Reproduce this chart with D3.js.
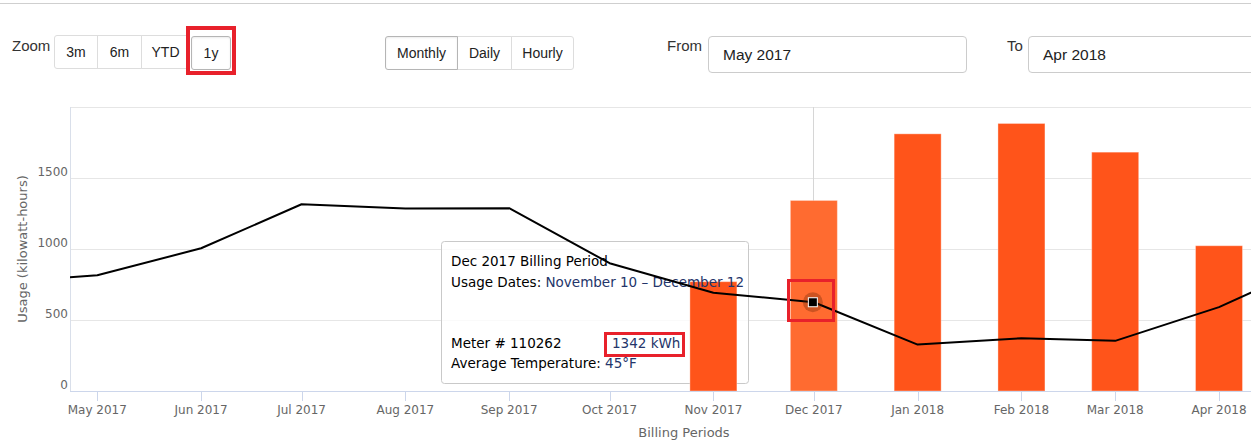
<!DOCTYPE html>
<html lang="en">
<head>
<meta charset="UTF-8"/>
<title>Monthly usage</title>
<script src="https://d3js.org/d3.v7.min.js"></script>
<style>
    body, html {
        margin: 0;
        padding: 0;
        width: 1251px;
        height: 444px;
        overflow: hidden;
        background: #fff;
        font-family: "Liberation Sans", Arial, sans-serif;
    }
    .topline {
        position: absolute; left: 0; top: 3px; width: 1251px; height: 0;
        border-top: 1px solid #cfcfcf;
    }
    .label {
        position: absolute; font-size: 15px; color: #333;
    }
    .group {
        position: absolute; display: flex; height: 34px;
    }
    .btn {
        box-sizing: border-box; height: 34px; font-size: 14px; color: #222;
        display: flex; align-items: center; justify-content: center;
        border: 1px solid #ddd; margin-left: -1px; background: #fff;
    }
    .btn:first-child { border-radius: 3px 0 0 3px; margin-left: 0; }
    .btn:last-child { border-radius: 0 3px 3px 0; }
    .btn.active { border-color: #b5b5b5; box-shadow: inset 0 1px 2px rgba(0,0,0,0.08); position: relative; }
    .input {
        position: absolute; box-sizing: border-box; height: 37px;
        border: 1px solid #ccc; border-radius: 4px; font-size: 15.5px; color: #222;
        padding-left: 14px; display: flex; align-items: center;
    }
    .redbox {
        position: absolute; box-sizing: border-box; border: 3px solid #e8212b;
    }
    svg { position: absolute; left: 0; top: 0; }
</style>
</head>
<body>
<div class="topline"></div>
<div class="label" style="left:12px;top:37px;">Zoom</div>
<div class="group" style="left:54px;top:35px;">
    <div class="btn" style="width:44px;">3m</div>
    <div class="btn" style="width:45px;">6m</div>
    <div class="btn" style="width:49px;">YTD</div>
</div>
<div class="group" style="left:191px;top:36px;">
    <div class="btn active" style="width:40px;border-radius:3px;">1y</div>
</div>
<div class="group" style="left:385px;top:36px;">
    <div class="btn active" style="width:73px;">Monthly</div>
    <div class="btn" style="width:55px;">Daily</div>
    <div class="btn" style="width:63px;">Hourly</div>
</div>
<div class="label" style="left:667px;top:37px;">From</div>
<div class="input" style="left:708px;top:36px;width:259px;">May 2017</div>
<div class="label" style="left:1007px;top:37px;">To</div>
<div class="input" style="left:1028px;top:36px;width:240px;">Apr 2018</div>
<div class="redbox" style="left:186px;top:26px;width:50px;height:49px;border-width:4px;"></div>

<svg id="chart" width="1251" height="444"></svg>
<div class="redbox" style="left:787px;top:279px;width:48px;height:43px;"></div>
<div class="redbox" style="left:604px;top:332px;width:81px;height:25px;"></div>

<script>
    // usage line (kWh), one point per month, including the ones that run off the edges
    const lineMonths = ["2017-04", "2017-05", "2017-06", "2017-07", "2017-08", "2017-09", "2017-10",
        "2017-11", "2017-12", "2018-01", "2018-02", "2018-03", "2018-04", "2018-05"];
    const lineValues = [765, 815, 1005, 1315, 1285, 1287, 900, 692, 625, 327, 372, 353, 591, 912];

    // billed usage bars (kWh)
    const barMonths = ["2017-11", "2017-12", "2018-01", "2018-02", "2018-03", "2018-04"];
    const barValues = [770, 1342, 1811, 1884, 1682, 1023];

    const tickMonths = ["2017-05", "2017-06", "2017-07", "2017-08", "2017-09", "2017-10",
        "2017-11", "2017-12", "2018-01", "2018-02", "2018-03", "2018-04"];
    const yTicks = [0, 500, 1000, 1500];
    const yGrid = [500, 1000, 1500, 2000];

    const hoverMonth = "2017-12";
    const tipTitle = "Dec 2017 Billing Period";
    const tipDates = "November 10 \u2013 December 12";
    const tipMeter = "110262";
    const tipTemp = "45\u00B0F";

    const parse = d3.utcParse("%Y-%m");
    const fmt = d3.utcFormat("%b %Y");

    const svg = d3.select("#chart");
    const plotLeft = 70, plotRight = 1251, plotTop = 107, plotBottom = 391;

    const x = d3.scaleUtc()
        .domain([parse("2017-05"), parse("2018-04")])
        .range([97.3, 1219]);
    const y = d3.scaleLinear().domain([0, 2000]).range([plotBottom, plotTop]);

    const lineData = lineMonths.map((m, i) => ({date: parse(m), value: lineValues[i]}));
    const barData = barMonths.map((m, i) => ({date: parse(m), value: barValues[i], month: m}));

    svg.append("defs").append("clipPath").attr("id", "plot")
        .append("rect").attr("x", plotLeft).attr("y", 0)
        .attr("width", plotRight - plotLeft).attr("height", plotBottom + 1);

    // grid
    svg.append("g").selectAll("line").data(yGrid).join("line")
        .attr("x1", plotLeft).attr("x2", plotRight)
        .attr("y1", d => Math.round(y(d)) + 0.5).attr("y2", d => Math.round(y(d)) + 0.5)
        .attr("stroke", "#e6e6e6");

    // y axis line
    svg.append("line").attr("x1", plotLeft + 0.5).attr("x2", plotLeft + 0.5)
        .attr("y1", plotTop).attr("y2", plotBottom).attr("stroke", "#d9dfea");

    svg.append("g").selectAll("text").data(yTicks).join("text")
        .attr("x", 68).attr("y", d => y(d) - 2)
        .attr("text-anchor", "end")
        .attr("font-family", "DejaVu Sans, sans-serif").attr("font-size", 12)
        .attr("fill", "#666")
        .text(d => d);

    // crosshair
    const hx = Math.round(x(parse(hoverMonth))) - 0.5;
    svg.append("line").attr("x1", hx).attr("x2", hx).attr("y1", plotTop).attr("y2", plotBottom)
        .attr("stroke", "#d6d6d6");

    // tooltip box (sits behind the series)
    const tip = {x: 441.5, y: 241.5, w: 307, h: 142};
    svg.append("rect").attr("x", tip.x).attr("y", tip.y).attr("width", tip.w).attr("height", tip.h)
        .attr("rx", 3).attr("fill", "rgba(255,255,255,0.8)").attr("stroke", "#c9c9c9");

    // bars
    const barW = 47;
    svg.append("g").attr("clip-path", "url(#plot)")
        .selectAll("rect").data(barData).join("rect")
        .attr("x", d => x(d.date) - barW / 2)
        .attr("y", d => y(d.value))
        .attr("width", barW)
        .attr("height", d => plotBottom - y(d.value))
        .attr("fill", d => d.month === hoverMonth ? "#ff6b30" : "#ff541a")
        .attr("stroke", "rgba(255,255,255,0.35)").attr("stroke-width", 1);

    // tooltip text
    const tt = svg.append("g").attr("font-family", "DejaVu Sans, sans-serif")
        .attr("font-size", 13.5).attr("fill", "#000");
    tt.append("text").attr("x", 451).attr("y", 266).text(tipTitle);
    const t2 = tt.append("text").attr("x", 451).attr("y", 287);
    t2.append("tspan").text("Usage Dates: ");
    t2.append("tspan").attr("fill", "#24356a").text(tipDates);
    tt.append("text").attr("x", 451).attr("y", 348).text("Meter # " + tipMeter);
    tt.append("text").attr("x", 612).attr("y", 348).attr("fill", "#24356a")
        .text(barValues[barMonths.indexOf(hoverMonth)] + " kWh");
    const t4 = tt.append("text").attr("x", 451).attr("y", 368);
    t4.append("tspan").text("Average Temperature: ");
    t4.append("tspan").attr("fill", "#24356a").text(tipTemp);

    // usage line
    const line = d3.line().x(d => x(d.date)).y(d => y(d.value));
    svg.append("path").datum(lineData)
        .attr("clip-path", "url(#plot)")
        .attr("fill", "none").attr("stroke", "#000").attr("stroke-width", 2)
        .attr("stroke-linejoin", "round")
        .attr("d", line);

    // hovered marker with halo
    const hp = lineData.find(d => fmt(d.date) === fmt(parse(hoverMonth)));
    const mx = x(hp.date) - 1, my = y(hp.value);
    svg.append("circle").attr("cx", mx).attr("cy", my).attr("r", 10)
        .attr("fill", "rgba(90,30,0,0.3)");
    svg.append("rect").attr("x", mx - 4.5).attr("y", my - 4.5).attr("width", 9).attr("height", 9)
        .attr("fill", "#000").attr("stroke", "#fff").attr("stroke-width", 1);

    // x axis
    svg.append("line").attr("x1", plotLeft).attr("x2", plotRight)
        .attr("y1", plotBottom + 0.5).attr("y2", plotBottom + 0.5).attr("stroke", "#ccd6eb");
    const xg = svg.append("g");
    xg.selectAll("line").data(tickMonths).join("line")
        .attr("x1", d => Math.round(x(parse(d))) + 0.5).attr("x2", d => Math.round(x(parse(d))) + 0.5)
        .attr("y1", plotBottom).attr("y2", plotBottom + 10).attr("stroke", "#ccd6eb");
    xg.selectAll("text").data(tickMonths).join("text")
        .attr("x", d => x(parse(d))).attr("y", 413.5)
        .attr("text-anchor", "middle")
        .attr("font-family", "DejaVu Sans, sans-serif").attr("font-size", 12)
        .attr("fill", "#666")
        .text(d => fmt(parse(d)));

    // axis titles
    svg.append("text").attr("x", 684).attr("y", 437)
        .attr("text-anchor", "middle")
        .attr("font-family", "DejaVu Sans, sans-serif").attr("font-size", 13)
        .attr("fill", "#666").text("Billing Periods");
    svg.append("text").attr("transform", "translate(27,249) rotate(-90)")
        .attr("text-anchor", "middle")
        .attr("font-family", "DejaVu Sans, sans-serif").attr("font-size", 13)
        .attr("fill", "#666").text("Usage (kilowatt-hours)");
</script>
</body>
</html>
